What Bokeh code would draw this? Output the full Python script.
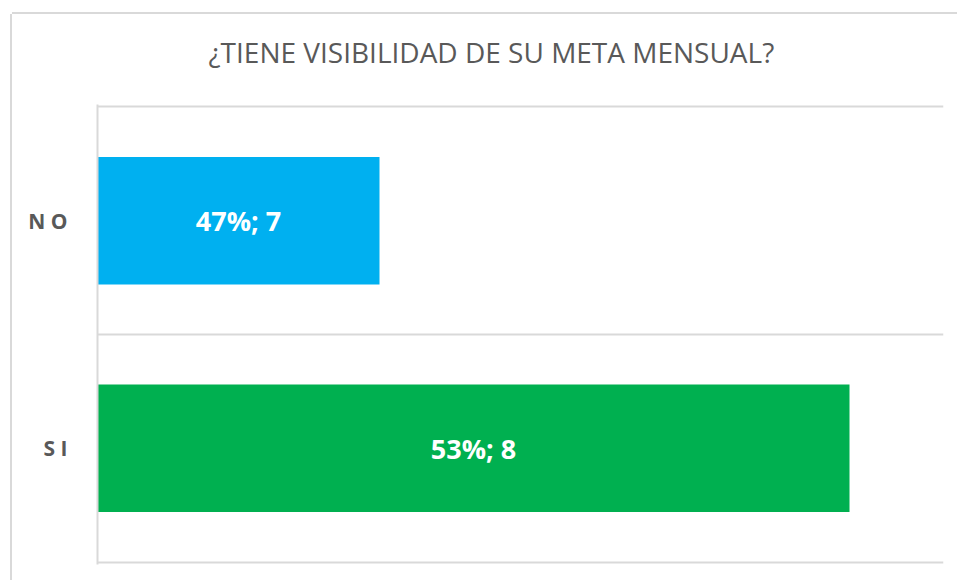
from bokeh.plotting import figure
from bokeh.models import ColumnDataSource, FixedTicker, Range1d, Title
from bokeh.core.properties import value
from bokeh.embed import file_html
from bokeh.resources import INLINE

# ---- data ----
categories = ["N O", "S I"]
category_pos = [1.5, 0.5]
percents = [47, 53]
counts = [7, 8]
colors = ["#00B0F0", "#00B050"]
title_text = "¿TIENE VISIBILIDAD DE SU META MENSUAL?"
x_min, x_max = 6.4, 8.2

labels = [f"{p}%; {c}" for p, c in zip(percents, counts)]
src = ColumnDataSource(dict(
    y=category_pos,
    right=counts,
    color=colors,
    label=labels,
    xmid=[(x_min + c) / 2 for c in counts],
))

W, H = 945, 566
p = figure(width=W, height=H, output_backend="svg", toolbar_location=None,
           x_range=Range1d(x_min, x_max), y_range=Range1d(-0.01, 2.01),
           x_axis_location=None, min_border_left=85, min_border_right=14,
           min_border_top=90, min_border_bottom=16,
           styles={"margin-left": "12px", "margin-top": "14px",
                   "box-shadow": "-2px 0px 0px 0px #d9d9d9, 0px -2px 0px 0px #d9d9d9"})
p.background_fill_color = "white"
p.border_fill_color = "white"
p.outline_line_color = None

p.hbar(y="y", left=x_min, right="right", height=0.56, color="color",
       line_color=None, source=src)
p.text(x="xmid", y="y", text="label", source=src, text_color="white",
       text_font=value("Open Sans"), text_font_style="bold",
       text_font_size="27px", text_align="center", text_baseline="middle")

p.xgrid.visible = False
p.ygrid.ticker = FixedTicker(ticks=[0, 1, 2])
p.ygrid.grid_line_color = "#d9d9d9"
p.ygrid.grid_line_width = 2

ax = p.yaxis[0]
ax.ticker = FixedTicker(ticks=category_pos)
ax.major_label_overrides = {pos: cat for pos, cat in zip(category_pos, categories)}
ax.axis_line_color = "#d9d9d9"
ax.axis_line_width = 2
ax.major_tick_line_color = None
ax.minor_tick_line_color = None
ax.major_tick_in = 0
ax.major_tick_out = 0
ax.major_label_standoff = 30
ax.major_label_text_font = "Open Sans"
ax.major_label_text_font_style = "bold"
ax.major_label_text_font_size = "21px"
ax.major_label_text_color = "#595959"

p.title.text = title_text
p.title.align = "left"
p.title.offset = 111
p.title.standoff = 0
p.title.text_font = "Open Sans"
p.title.text_font_style = "normal"
p.title.text_font_size = "28px"
p.title.text_color = "#595959"

# spacer between title and plot area
spacer = Title(text=" ", text_font_size="2px", standoff=30)
p.add_layout(spacer, "above")

open("out.html", "w").write(file_html(p, INLINE))
